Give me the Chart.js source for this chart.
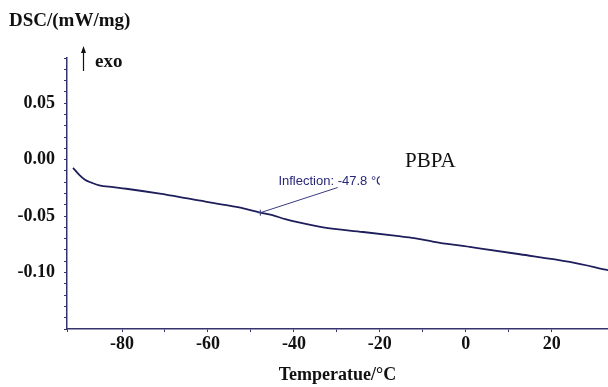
<!DOCTYPE html>
<html>
<head>
<meta charset="utf-8">
<script src="https://cdn.jsdelivr.net/npm/chart.js@4.4.0/dist/chart.umd.min.js"></script>
<style>
  html, body { margin: 0; padding: 0; background: #fff; }
  #wrap { width: 608px; height: 387px; position: relative; }
</style>
</head>
<body>
<div id="wrap"><canvas id="dsc-curve"></canvas></div>
<script>
// DSC trace of PBPA, heat flow vs temperature
var temps = [-91.4, -90.0, -88.7, -87.0, -85.3, -82.0, -79.0, -71.2, -63.5, -55.7, -52.2, -47.8,
             -45.2, -42.0, -39.4, -33.2, -23.9, -16.1, -12.0, -8.4, -7.7, 0.9, 12.6, 24.2, 33.1];
var heatFlow = [-0.0073, -0.0132, -0.0176, -0.0206, -0.0229, -0.0244, -0.0258, -0.0302, -0.0353, -0.0403, -0.0428, -0.0470,
                -0.0490, -0.0527, -0.0552, -0.0600, -0.0641, -0.0676, -0.0695, -0.0720, -0.0726, -0.0773, -0.0838, -0.0906, -0.0979];
var xTickLabels = [-80, -60, -40, -20, 0, 20];
var yTickLabels = [0.05, 0.00, -0.05, -0.10];
var inflectionT = -47.8;
var sampleName = 'PBPA';

var points = temps.map(function (t, i) { return { x: t, y: heatFlow[i] }; });

var navy = '#1e1e5c';
var axisColor = '#34346e';
var serifBold = { family: '"Liberation Serif", "Times New Roman", serif', size: 18, weight: 'bold' };

function valueAt(t) {
    for (var i = 1; i < temps.length; i++) {
        if (t <= temps[i]) {
            var f = (t - temps[i - 1]) / (temps[i] - temps[i - 1]);
            return heatFlow[i - 1] + f * (heatFlow[i] - heatFlow[i - 1]);
        }
    }
    return heatFlow[heatFlow.length - 1];
}

function hasLabel(list, v) {
    for (var i = 0; i < list.length; i++) {
        if (Math.abs(list[i] - v) < 1e-6) return true;
    }
    return false;
}

var annotations = {
    id: 'annotations',
    afterDraw: function (chart) {
        var ctx = chart.ctx;
        var xs = chart.scales.x, ys = chart.scales.y;
        ctx.save();

        // y axis unit
        ctx.fillStyle = '#111';
        ctx.font = 'bold 19px "Liberation Serif", serif';
        ctx.textBaseline = 'middle';
        ctx.textAlign = 'left';
        ctx.fillText('DSC/(mW/mg)', 9, 21);

        // exo arrow
        ctx.strokeStyle = '#111';
        ctx.lineWidth = 1.2;
        ctx.beginPath();
        ctx.moveTo(83.5, 71);
        ctx.lineTo(83.5, 51);
        ctx.stroke();
        ctx.fillStyle = '#111';
        ctx.beginPath();
        ctx.moveTo(83.5, 46);
        ctx.lineTo(81, 53);
        ctx.lineTo(86, 53);
        ctx.closePath();
        ctx.fill();
        ctx.font = 'bold 19px "Liberation Serif", serif';
        ctx.fillText('exo', 95, 62);

        // sample name
        ctx.font = '21px "Liberation Serif", serif';
        ctx.fillText(sampleName, 405, 161);

        // inflection marker and leader
        var px = xs.getPixelForValue(inflectionT);
        var py = ys.getPixelForValue(valueAt(inflectionT));
        var lx = xs.getPixelForValue(-29.8);
        var ly = ys.getPixelForValue(-0.0247);
        ctx.strokeStyle = '#3a3a80';
        ctx.lineWidth = 1;
        ctx.beginPath();
        ctx.moveTo(px, py);
        ctx.lineTo(lx, ly);
        ctx.moveTo(px - 3, py);
        ctx.lineTo(px + 3, py);
        ctx.moveTo(px, py - 3);
        ctx.lineTo(px, py + 3);
        ctx.stroke();

        // label is cut off at the right like the analysis software does
        var tx = xs.getPixelForValue(-43.6);
        var ty = ys.getPixelForValue(-0.0192);
        var clipX = xs.getPixelForValue(-20.0);
        ctx.beginPath();
        ctx.rect(tx - 2, ty - 10, clipX - tx + 2, 20);
        ctx.clip();
        ctx.fillStyle = '#27277a';
        ctx.font = '13px "Liberation Sans", Arial, sans-serif';
        ctx.fillText('Inflection: ' + inflectionT.toFixed(1) + ' \u00B0C', tx, ty);
        ctx.restore();
    }
};

var ctx = document.getElementById('dsc-curve').getContext('2d');
var chart = new Chart(ctx, {
    type: 'line',
    data: {
        datasets: [{
            label: sampleName,
            data: points,
            borderColor: navy,
            borderWidth: 1.8,
            pointRadius: 0,
            fill: false,
            cubicInterpolationMode: 'monotone'
        }]
    },
    options: {
        responsive: true,
        maintainAspectRatio: false,
        animation: false,
        layout: { padding: { top: 58, right: 0, left: 0, bottom: 0 } },
        plugins: {
            legend: { display: false },
            tooltip: { enabled: false }
        },
        scales: {
            x: {
                type: 'linear',
                min: -92.8,
                max: 33.1,
                afterFit: function (scale) {
                    scale.height = 58;
                    scale.paddingRight = 0;
                    scale.paddingLeft = 0;
                },
                border: { display: true, color: axisColor, width: 1.5 },
                grid: { drawOnChartArea: false, color: axisColor, tickLength: 3, lineWidth: 1 },
                ticks: {
                    stepSize: 10,
                    autoSkip: false,
                    maxRotation: 0,
                    padding: 2,
                    color: '#111',
                    font: serifBold,
                    callback: function (v) { return hasLabel(xTickLabels, v) ? String(Math.round(v)) : ''; }
                },
                title: {
                    display: true,
                    text: 'Temperatue/\u00B0C',
                    color: '#111',
                    font: { family: '"Liberation Serif", serif', size: 18, weight: 'bold' },
                    padding: { top: 0, bottom: 1 }
                }
            },
            y: {
                type: 'linear',
                min: -0.15,
                max: 0.09,
                afterFit: function (scale) {
                    scale.width = 67;
                    scale.paddingTop = 0;
                    scale.paddingBottom = 0;
                },
                border: { display: true, color: axisColor, width: 1.5 },
                grid: { drawOnChartArea: false, color: axisColor, tickLength: 3, lineWidth: 1 },
                ticks: {
                    stepSize: 0.01,
                    autoSkip: false,
                    padding: 9,
                    color: '#111',
                    font: serifBold,
                    callback: function (v) { return hasLabel(yTickLabels, v) ? v.toFixed(2) : ''; }
                }
            }
        }
    },
    plugins: [annotations]
});
</script>
</body>
</html>
